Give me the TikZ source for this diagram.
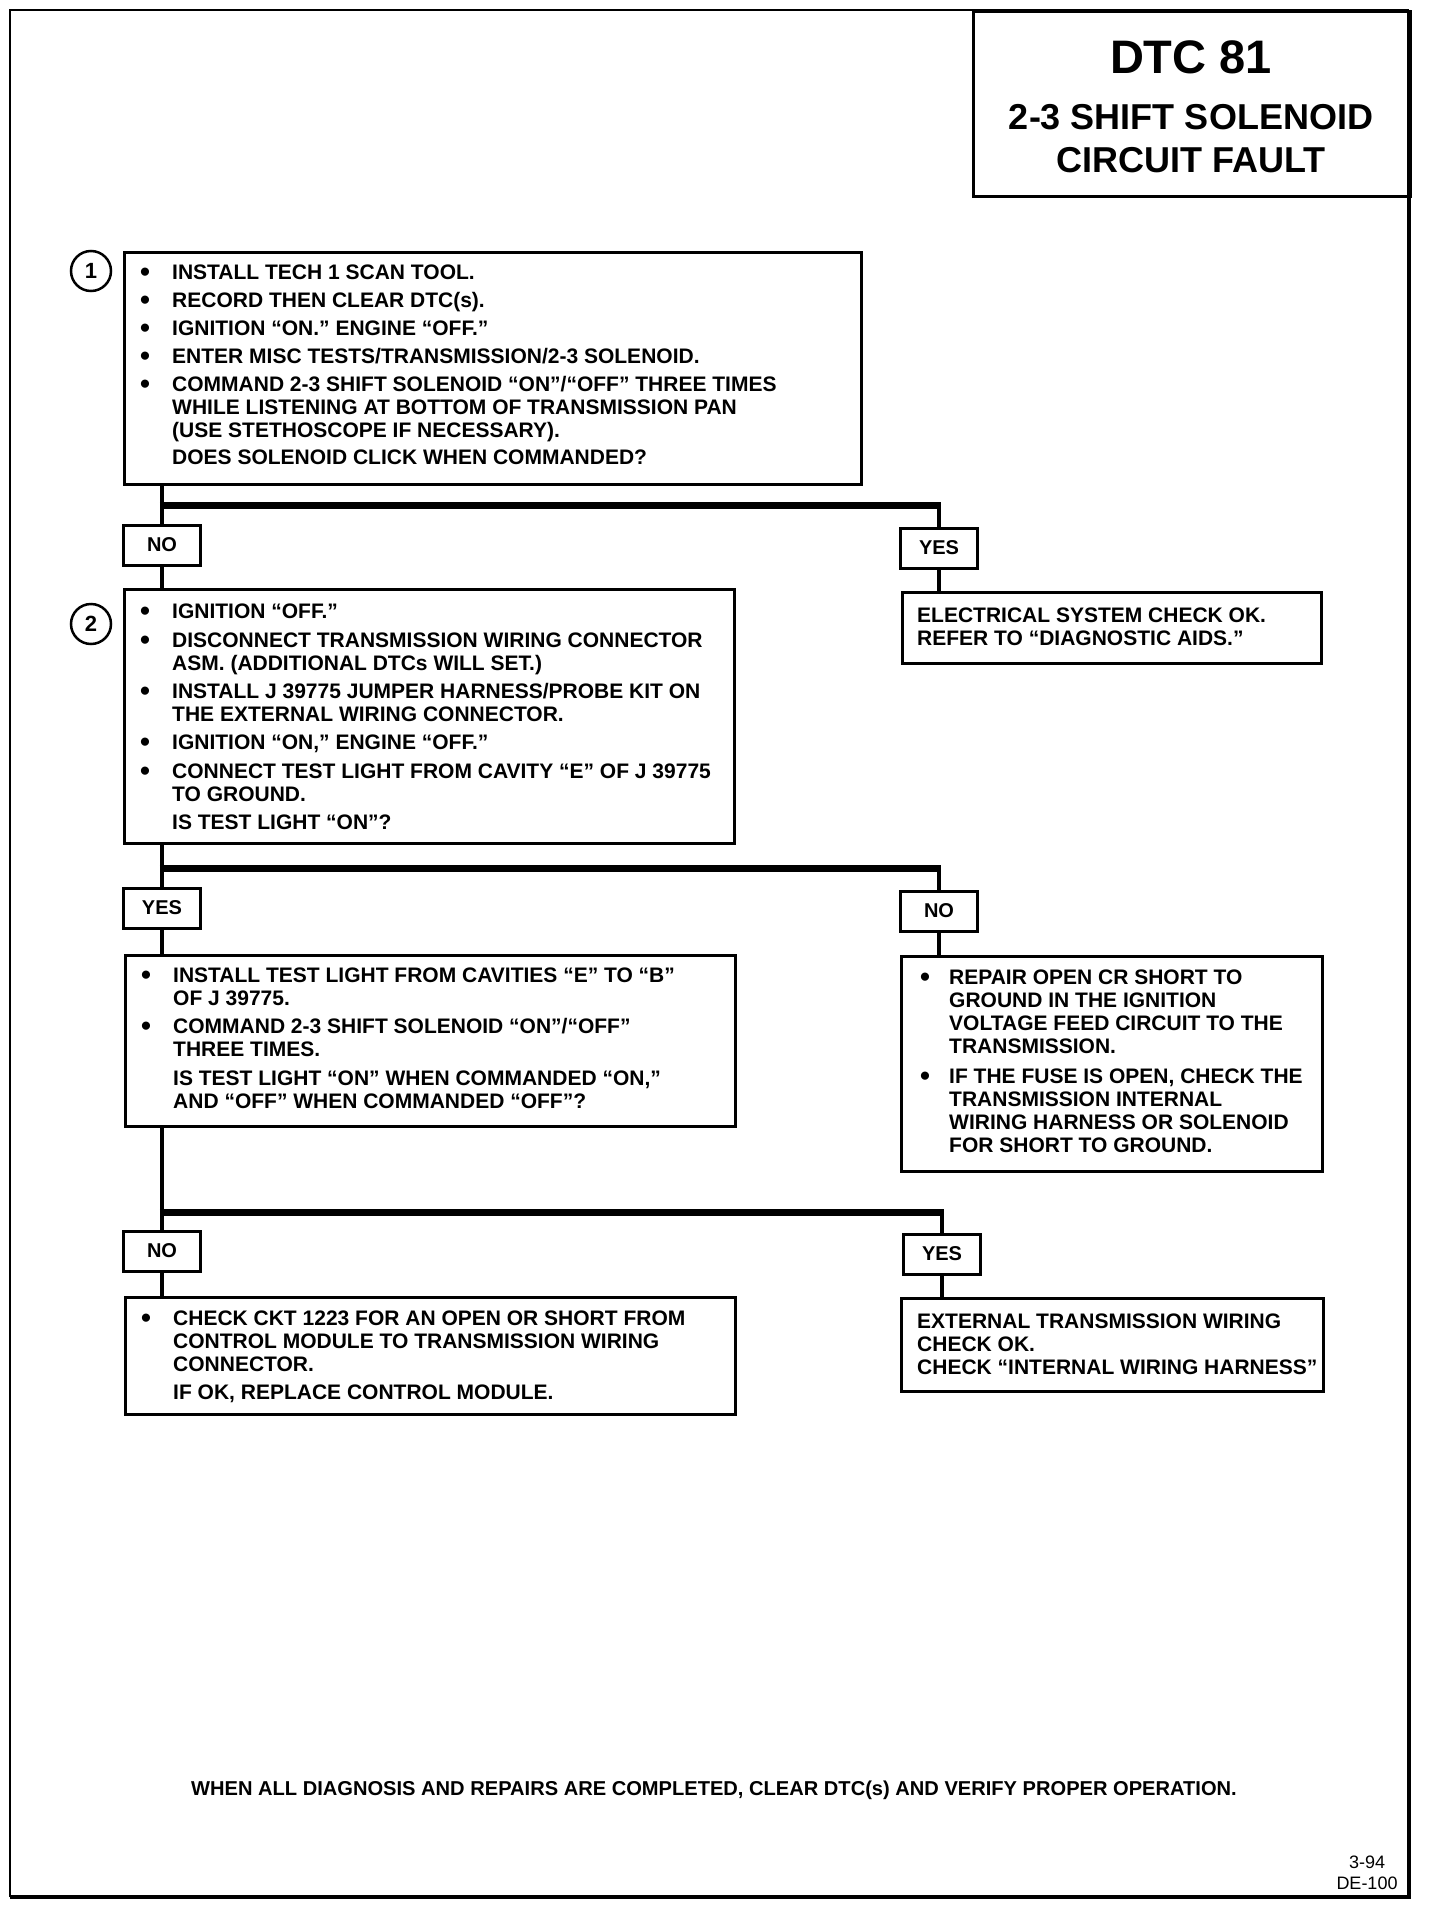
\documentclass[tikz,border=0pt]{standalone}
\usepackage{fontspec}
\setmainfont{Liberation Sans}
\usetikzlibrary{calc}
\newcommand\Dot{\raisebox{-2pt}{\scalebox{1.35}{\textbullet}}}
\newcommand\Bu{\makebox[32pt][l]{\Dot}}
\newcommand\In{\hspace*{32pt}}
\newcommand\Br{\makebox[29pt][l]{\Dot}}
\newcommand\Ir{\hspace*{29pt}}
\tikzset{
  stepbox/.style={draw, line width=3pt, rectangle, inner sep=0pt, anchor=north west},
  answer/.style={draw, line width=3pt, rectangle, inner sep=0pt, minimum width=77pt, minimum height=40pt, font=\fontsize{20}{22}\selectfont\bfseries},
  txt/.style={inner sep=0pt, anchor=base west, font=\fontsize{21}{23}\selectfont\bfseries},
  wire/.style={line width=4.5pt},
  bar/.style={line width=7pt},
  num/.style={draw, circle, line width=2.5pt, minimum size=40pt, inner sep=0pt, font=\fontsize{22}{23}\selectfont\bfseries},
}
\begin{document}
\begin{tikzpicture}[x=1pt,y=-1pt]
\useasboundingbox (0,0) rectangle (1440,1908);
\fill[white] (0,0) rectangle (1440,1908);
% frame
\draw[line width=2pt] (10,1897) -- (10,10) -- (1409,10);
\draw[line width=3.5pt] (1409,10) -- (1409,1897) -- (10,1897);
% title
\node[stepbox, minimum width=437pt, minimum height=185pt] (title) at (972,10) {};
\node[inner sep=0pt, anchor=base, font=\fontsize{47}{50}\selectfont\bfseries] (t1) at (1191,74) {DTC 81};
\node[inner sep=0pt, anchor=base, font=\fontsize{36}{40}\selectfont\bfseries] (t2) at (1191,129) {2-3 SHIFT SOLENOID};
\node[inner sep=0pt, anchor=base, font=\fontsize{36}{40}\selectfont\bfseries] (t3) at (1191,172) {CIRCUIT FAULT};

% step 1
\node[stepbox, minimum width=737pt, minimum height=232pt] (b1) at (123,251) {};
\node[num] (c1) at (91,271) {1};
\node[txt] (b1t) at (140,279) {\begin{tabular}[t]{@{}l@{}}
\Bu INSTALL TECH 1 SCAN TOOL.\\[5pt]
\Bu RECORD THEN CLEAR DTC(s).\\[5pt]
\Bu IGNITION “ON.” ENGINE “OFF.”\\[5pt]
\Bu ENTER MISC TESTS/TRANSMISSION/2-3 SOLENOID.\\[5pt]
\Bu COMMAND 2-3 SHIFT SOLENOID “ON”/“OFF” THREE TIMES\\
\In WHILE LISTENING AT BOTTOM OF TRANSMISSION PAN\\
\In (USE STETHOSCOPE IF NECESSARY).\\[4pt]
\In DOES SOLENOID CLICK WHEN COMMANDED?
\end{tabular}};

\node[answer] (no1) at (162,545) {NO};
\node[answer] (yes1) at (939,548) {YES};
\coordinate (j1) at (162,505);
\draw[wire] (no1.north |- b1.south) -- (no1.north);
\draw[bar] ($(j1)+(-2.25,0)$) -- ($(j1 -| yes1.north)+(2.25,0)$);
\draw[wire] (j1 -| yes1.north) -- (yes1.north);

% step 2
\node[stepbox, minimum width=610pt, minimum height=254pt] (b2) at (123,588) {};
\node[num] (c2) at (91,624) {2};
\draw[wire] (no1.south) -- (no1.south |- b2.north);
\node[txt] (b2t) at (140,618) {\begin{tabular}[t]{@{}l@{}}
\Bu IGNITION “OFF.”\\[6pt]
\Bu DISCONNECT TRANSMISSION WIRING CONNECTOR\\
\In ASM. (ADDITIONAL DTCs WILL SET.)\\[5pt]
\Bu INSTALL J 39775 JUMPER HARNESS/PROBE KIT ON\\
\In THE EXTERNAL WIRING CONNECTOR.\\[5pt]
\Bu IGNITION “ON,” ENGINE “OFF.”\\[6pt]
\Bu CONNECT TEST LIGHT FROM CAVITY “E” OF J 39775\\
\In TO GROUND.\\[5pt]
\In IS TEST LIGHT “ON”?
\end{tabular}};

\node[stepbox, minimum width=419pt, minimum height=71pt] (ok1) at (901,591) {};
\draw[wire] (yes1.south) -- (yes1.south |- ok1.north);
\node[txt] (ok1t) at (917,622) {\begin{tabular}[t]{@{}l@{}}
ELECTRICAL SYSTEM CHECK OK.\\
REFER TO “DIAGNOSTIC AIDS.”
\end{tabular}};

\node[answer] (yes2) at (162,908) {YES};
\node[answer] (no2) at (939,911) {NO};
\coordinate (j2) at (162,868);
\draw[wire] (yes2.north |- b2.south) -- (yes2.north);
\draw[bar] ($(j2)+(-2.25,0)$) -- ($(j2 -| no2.north)+(2.25,0)$);
\draw[wire] (j2 -| no2.north) -- (no2.north);

% step 3
\node[stepbox, minimum width=610pt, minimum height=171pt] (b3) at (124,954) {};
\draw[wire] (yes2.south) -- (yes2.south |- b3.north);
\node[txt] (b3t) at (141,982) {\begin{tabular}[t]{@{}l@{}}
\Bu INSTALL TEST LIGHT FROM CAVITIES “E” TO “B”\\
\In OF J 39775.\\[5pt]
\Bu COMMAND 2-3 SHIFT SOLENOID “ON”/“OFF”\\
\In THREE TIMES.\\[6pt]
\In IS TEST LIGHT “ON” WHEN COMMANDED “ON,”\\
\In AND “OFF” WHEN COMMANDED “OFF”?
\end{tabular}};

\node[stepbox, minimum width=421pt, minimum height=215pt] (rep) at (900,955) {};
\draw[wire] (no2.south) -- (no2.south |- rep.north);
\node[txt] (rept) at (920,984) {\begin{tabular}[t]{@{}l@{}}
\Br REPAIR OPEN CR SHORT TO\\
\Ir GROUND IN THE IGNITION\\
\Ir VOLTAGE FEED CIRCUIT TO THE\\
\Ir TRANSMISSION.\\[7pt]
\Br IF THE FUSE IS OPEN, CHECK THE\\
\Ir TRANSMISSION INTERNAL\\
\Ir WIRING HARNESS OR SOLENOID\\
\Ir FOR SHORT TO GROUND.
\end{tabular}};

\node[answer] (no3) at (162,1251) {NO};
\node[answer] (yes3) at (942,1254) {YES};
\coordinate (j3) at (162,1212);
\draw[wire] (no3.north |- b3.south) -- (no3.north);
\draw[bar] ($(j3)+(-2.25,0)$) -- ($(j3 -| yes3.north)+(2.25,0)$);
\draw[wire] (j3 -| yes3.north) -- (yes3.north);

% step 4
\node[stepbox, minimum width=610pt, minimum height=117pt] (b4) at (124,1296) {};
\draw[wire] (no3.south) -- (no3.south |- b4.north);
\node[txt] (b4t) at (141,1325) {\begin{tabular}[t]{@{}l@{}}
\Bu CHECK CKT 1223 FOR AN OPEN OR SHORT FROM\\
\In CONTROL MODULE TO TRANSMISSION WIRING\\
\In CONNECTOR.\\[5pt]
\In IF OK, REPLACE CONTROL MODULE.
\end{tabular}};

\node[stepbox, minimum width=422pt, minimum height=93pt] (ext) at (900,1297) {};
\draw[wire] (yes3.south) -- (yes3.south |- ext.north);
\node[txt] (extt) at (917,1328) {\begin{tabular}[t]{@{}l@{}}
EXTERNAL TRANSMISSION WIRING\\
CHECK OK.\\
CHECK “INTERNAL WIRING HARNESS”
\end{tabular}};

% footer
\node[inner sep=0pt, anchor=base, font=\fontsize{20.1}{22}\selectfont\bfseries] (foot) at (714,1795) {WHEN ALL DIAGNOSIS AND REPAIRS ARE COMPLETED, CLEAR DTC(s) AND VERIFY PROPER OPERATION.};
\node[inner sep=0pt, anchor=base, font=\fontsize{18}{20}\selectfont] (pg1) at (1367,1868) {3-94};
\node[inner sep=0pt, anchor=base, font=\fontsize{18}{20}\selectfont] (pg2) at (1367,1889) {DE-100};
\end{tikzpicture}
\end{document}
